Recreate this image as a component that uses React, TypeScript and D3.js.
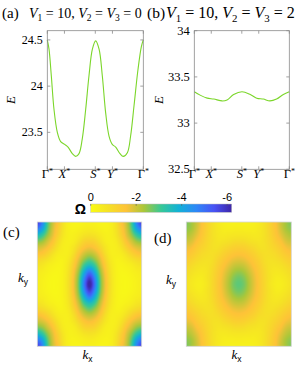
import React, { useMemo } from "react";
import * as d3 from "d3";

// path through the Brillouin zone
const kTicks = [0, 1, 2.8, 3.8, 5.6];
const kTickNames = ["Γ", "X", "S", "Y", "Γ"];

// band (a): V1 = 10, V2 = V3 = 0
const bandAk = [0, 0.1, 0.235, 0.39, 0.585, 0.78, 1.01, 1.21, 1.46, 1.655, 1.85, 2.04, 2.24, 2.43, 2.63, 2.82, 3.02, 3.21, 3.405, 3.6, 3.79, 3.99, 4.24, 4.43, 4.67, 4.86, 5.06, 5.29, 5.49, 5.6];
const bandAE = [24.5, 24.4, 24.11, 23.75, 23.5, 23.4, 23.37, 23.34, 23.27, 23.24, 23.27, 23.43, 23.75, 24.11, 24.4, 24.49, 24.4, 24.11, 23.71, 23.46, 23.37, 23.34, 23.27, 23.24, 23.28, 23.46, 23.79, 24.18, 24.43, 24.5];
const yTicksA = [23.5, 24, 24.5];

// band (b): V1 = 10, V2 = V3 = 2
const bandBk = [0, 0.37, 0.76, 1.15, 1.64, 1.93, 2.32, 2.81, 3.3, 3.68, 4.07, 4.46, 4.85, 5.25, 5.6];
const bandBE = [33.34, 33.3, 33.27, 33.26, 33.24, 33.25, 33.31, 33.34, 33.31, 33.27, 33.26, 33.24, 33.26, 33.31, 33.34];
const yTicksB = [32.5, 33, 33.5, 34];

const potentials = [
  [10, 0, 0],
  [10, 2, 2],
];

// Berry curvature Ω, one quadrant (rows: centre -> top edge, cols: centre -> right edge)
const omegaC = [
  [-6.3, -4.9, -2.9, -1.7, -0.8, -0.3, -0.14, -0.1, -0.16, -0.28, -0.4],
  [-5.8, -4.6, -2.8, -1.66, -0.78, -0.3, -0.14, -0.11, -0.19, -0.3, -0.42],
  [-4.85, -3.9, -2.53, -1.53, -0.73, -0.29, -0.16, -0.17, -0.27, -0.39, -0.49],
  [-3.6, -3.14, -2.17, -1.35, -0.64, -0.28, -0.2, -0.27, -0.38, -0.59, -0.7],
  [-2.8, -2.46, -1.83, -1.11, -0.52, -0.29, -0.29, -0.47, -0.72, -0.93, -1.07],
  [-2.12, -1.93, -1.46, -0.83, -0.41, -0.36, -0.44, -0.76, -1.14, -1.45, -1.59],
  [-1.6, -1.45, -1.07, -0.62, -0.37, -0.38, -0.67, -1.16, -1.6, -1.88, -2.02],
  [-1.14, -1.06, -0.73, -0.41, -0.34, -0.46, -0.91, -1.52, -1.98, -2.48, -2.7],
  [-0.73, -0.65, -0.47, -0.33, -0.34, -0.6, -1.16, -1.78, -2.46, -3.23, -3.74],
  [-0.44, -0.39, -0.3, -0.24, -0.32, -0.66, -1.3, -1.92, -2.83, -4.15, -4.94],
  [-0.29, -0.27, -0.19, -0.19, -0.3, -0.68, -1.43, -2.0, -3.0, -4.64, -5.8],
];
const omegaD = [
  [-2.85, -2.67, -2.22, -1.76, -1.38, -0.98, -0.62, -0.41, -0.4, -0.55, -0.73],
  [-2.73, -2.56, -2.16, -1.72, -1.35, -0.98, -0.68, -0.46, -0.47, -0.61, -0.8],
  [-2.45, -2.32, -1.98, -1.63, -1.3, -0.96, -0.68, -0.56, -0.61, -0.76, -0.92],
  [-2.11, -2.02, -1.76, -1.48, -1.21, -0.9, -0.72, -0.68, -0.76, -0.93, -1.09],
  [-1.77, -1.71, -1.53, -1.32, -1.08, -0.83, -0.77, -0.82, -0.97, -1.16, -1.3],
  [-1.49, -1.44, -1.3, -1.13, -0.91, -0.83, -0.85, -0.97, -1.17, -1.39, -1.53],
  [-1.21, -1.16, -1.03, -0.9, -0.76, -0.78, -0.94, -1.13, -1.35, -1.63, -1.76],
  [-0.89, -0.85, -0.75, -0.69, -0.66, -0.8, -1.01, -1.29, -1.57, -1.9, -2.05],
  [-0.6, -0.59, -0.56, -0.52, -0.59, -0.78, -1.08, -1.43, -1.79, -2.13, -2.32],
  [-0.41, -0.39, -0.38, -0.42, -0.56, -0.79, -1.13, -1.5, -1.95, -2.35, -2.53],
  [-0.28, -0.27, -0.29, -0.34, -0.5, -0.78, -1.13, -1.53, -2.01, -2.37, -2.65],
];
const cbTicks = [0, -2, -4, -6];
const omegaMin = -6.2;

// parula
const parulaT = [0, 0.125, 0.25, 0.375, 0.5, 0.625, 0.75, 0.875, 1];
const parulaColors = ["#3e26a8", "#4852f4", "#2e87f7", "#12b1d6", "#37c897", "#abc739", "#fec338", "#f5e126", "#f9fb15"];

const serif = "'Liberation Serif', 'DejaVu Serif', serif";
const sans = "'Liberation Sans', Arial, sans-serif";
const lineColor = "#7bd62a";
const axisColor = "#8a8a8a";

const colorScale = d3
  .scaleLinear<string>()
  .domain(parulaT.map((t) => (t - 1) * -omegaMin))
  .range(parulaColors)
  .clamp(true);

function catmull(vals: number[], t: number) {
  const n = vals.length;
  const i = Math.min(n - 2, Math.max(0, Math.floor(t)));
  const f = t - i;
  const p0 = vals[Math.max(0, i - 1)], p1 = vals[i], p2 = vals[i + 1], p3 = vals[Math.min(n - 1, i + 2)];
  return 0.5 * (2 * p1 + (-p0 + p2) * f + (2 * p0 - 5 * p1 + 4 * p2 - p3) * f * f + (-p0 + 3 * p1 - 3 * p2 + p3) * f * f * f);
}

function Band({ left, right, top, bottom, yDomain, yTicks, ks, Es, tickFont, yLabelX }: any) {
  const x = d3.scaleLinear().domain([0, 5.6]).range([left, right]);
  const y = d3.scaleLinear().domain(yDomain).range([bottom, top]);
  const line = d3
    .line<number>()
    .x((_, i) => x(ks[i]))
    .y((d) => y(d))
    .curve(d3.curveCatmullRom.alpha(0.5));
  return (
    <g>
      <path d={line(Es) || ""} fill="none" stroke={lineColor} strokeWidth={1.1} />
      <rect x={left} y={top} width={right - left} height={bottom - top} fill="none" stroke={axisColor} strokeWidth={0.8} />
      {kTicks.map((k, i) => (
        <g key={"k" + i}>
          <line x1={x(k)} x2={x(k)} y1={bottom} y2={bottom - 3} stroke={axisColor} strokeWidth={0.8} />
          <line x1={x(k)} x2={x(k)} y1={top} y2={top + 3} stroke={axisColor} strokeWidth={0.8} />
          <text x={x(k)} y={178} fontFamily={serif} fontSize={12.5} textAnchor="middle">
            <tspan fontStyle={kTickNames[i] === "Γ" ? "normal" : "italic"}>{kTickNames[i]}</tspan>
            <tspan fontSize={8} dy={-4.5}>*</tspan>
          </text>
        </g>
      ))}
      {yTicks.map((v: number) => (
        <g key={"y" + v}>
          <line x1={left} x2={left + 3} y1={y(v)} y2={y(v)} stroke={axisColor} strokeWidth={0.8} />
          <line x1={right} x2={right - 3} y1={y(v)} y2={y(v)} stroke={axisColor} strokeWidth={0.8} />
          <text x={left - 4.5} y={y(v) + 4} fontFamily={serif} fontSize={tickFont} textAnchor="end">
            {String(v)}
          </text>
        </g>
      ))}
      <text
        transform={`translate(${yLabelX},${(top + bottom) / 2}) rotate(-90)`}
        fontFamily={serif}
        fontStyle="italic"
        fontSize={13}
        textAnchor="middle"
        dy={4}
      >
        E
      </text>
    </g>
  );
}

function OmegaMap({ quad, left, top, width, height }: any) {
  const href = useMemo(() => {
    const n = quad.length * 2 - 1;
    const mid = quad.length - 1;
    const full = d3.range(n).map((i) => d3.range(n).map((j) => quad[Math.abs(i - mid)][Math.abs(j - mid)]));
    const cw = Math.round(width), ch = Math.round(height);
    const canvas = document.createElement("canvas");
    canvas.width = cw;
    canvas.height = ch;
    const ctx = canvas.getContext("2d");
    if (!ctx) return "";
    const img = ctx.createImageData(cw, ch);
    const colX = d3.scaleLinear().domain([0, cw]).range([0, n - 1]);
    const rowY = d3.scaleLinear().domain([0, ch]).range([0, n - 1]);
    const rows = full.map((row) => d3.range(cw).map((px) => catmull(row, colX(px + 0.5))));
    for (let px = 0; px < cw; px++) {
      const col = rows.map((r) => r[px]);
      for (let py = 0; py < ch; py++) {
        const v = catmull(col, rowY(py + 0.5));
        const c = d3.rgb(colorScale(v));
        const o = (py * cw + px) * 4;
        img.data[o] = c.r;
        img.data[o + 1] = c.g;
        img.data[o + 2] = c.b;
        img.data[o + 3] = 255;
      }
    }
    ctx.putImageData(img, 0, 0);
    return canvas.toDataURL();
  }, [quad, width, height]);
  return (
    <g>
      <image href={href} x={left} y={top} width={width} height={height} preserveAspectRatio="none" />
      <rect x={left} y={top} width={width} height={height} fill="none" stroke="#d4d4d4" strokeWidth={0.8} />
    </g>
  );
}

function Title({ x, y, size, V }: any) {
  const sub = size * 0.68;
  const dy = size * 0.25;
  return (
    <text x={x} y={y} fontFamily={serif} fontSize={size}>
      <tspan fontStyle="italic">V</tspan>
      <tspan fontSize={sub} dy={dy}>1</tspan>
      <tspan dy={-dy}>{` = ${V[0]}, `}</tspan>
      <tspan fontStyle="italic">V</tspan>
      <tspan fontSize={sub} dy={dy}>2</tspan>
      <tspan dy={-dy}>{" = "}</tspan>
      <tspan fontStyle="italic">V</tspan>
      <tspan fontSize={sub} dy={dy}>3</tspan>
      <tspan dy={-dy}>{` = ${V[2]}`}</tspan>
    </text>
  );
}

function KLabel({ x, y, s }: any) {
  return (
    <text x={x} y={y} fontFamily={serif} fontSize={13}>
      <tspan fontStyle="italic">k</tspan>
      <tspan fontFamily={sans} fontSize={8.5} dy={3}>{s}</tspan>
    </text>
  );
}

export default function App() {
  const cb = d3.scaleLinear().domain([0, omegaMin]).range([90.7, 231.7]);
  return (
    <svg width={299} height={365} style={{ position: "absolute", left: 0, top: 0, background: "#fff" }}>
      <defs>
        <linearGradient id="parula" x1="0" x2="1" y1="0" y2="0">
          {parulaT.map((t, i) => (
            <stop key={i} offset={1 - t} stopColor={parulaColors[i]} />
          )).reverse()}
        </linearGradient>
      </defs>

      <text x={2} y={17.5} fontFamily={serif} fontSize={15}>(a)</text>
      <Title x={29} y={17.5} size={14} V={potentials[0]} />
      <text x={147} y={17.5} fontFamily={serif} fontSize={15.5}>(b)</text>
      <Title x={166} y={17.5} size={16} V={potentials[1]} />

      <Band left={47.3} right={143.3} top={30.7} bottom={169.3} yDomain={[23.1, 24.6]} yTicks={yTicksA} ks={bandAk} Es={bandAE} tickFont={12} yLabelX={11} />
      <Band left={194.3} right={289.3} top={30.7} bottom={169.3} yDomain={[32.5, 34]} yTicks={yTicksB} ks={bandBk} Es={bandBE} tickFont={12.5} yLabelX={158.5} />

      {/* colour bar */}
      <text x={86} y={214} fontFamily={sans} fontWeight="bold" fontSize={14} textAnchor="end">Ω</text>
      <rect x={cb(0)} y={204} width={cb(omegaMin) - cb(0)} height={8.3} fill="url(#parula)" stroke="#bbb" strokeWidth={0.5} />
      {cbTicks.map((t) => (
        <g key={t}>
          <line x1={cb(t)} x2={cb(t)} y1={204} y2={205.8} stroke="#555" strokeWidth={0.6} />
          <text x={cb(t)} y={201} fontFamily={sans} fontSize={11} textAnchor="middle">{String(t)}</text>
        </g>
      ))}

      <text x={3} y={237} fontFamily={serif} fontSize={15}>(c)</text>
      <OmegaMap quad={omegaC} left={37.3} top={222} width={104.4} height={124.3} />
      <KLabel x={18} y={282} s="y" />
      <KLabel x={82.5} y={359} s="x" />

      <text x={154} y={243} fontFamily={serif} fontSize={15}>(d)</text>
      <OmegaMap quad={omegaD} left={186.3} top={222} width={105} height={124.3} />
      <KLabel x={166} y={284} s="y" />
      <KLabel x={231.5} y={359} s="x" />
    </svg>
  );
}
